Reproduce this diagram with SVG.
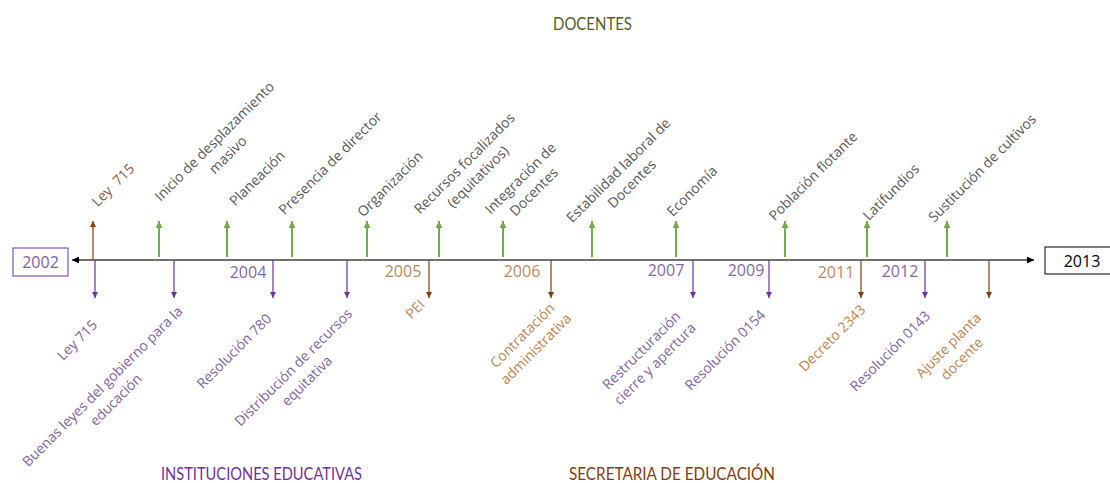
<svg xmlns="http://www.w3.org/2000/svg" width="1110" height="483" viewBox="0 0 1110 483">
<style>
.ax{stroke:#404040;stroke-width:1.6;fill:none}
.g{stroke:#70AD47;stroke-width:2;marker-end:url(#mg)}
.p{stroke:#7030A0;stroke-width:1.2;marker-end:url(#mp)}
.b{stroke:#843C0C;stroke-width:1.2;marker-end:url(#mb)}
text{font-family:"Open Sans","Liberation Sans",sans-serif}
.lt{font-size:14px;fill:#595959;text-anchor:middle}
.lp{font-size:14px;fill:#8064A2;text-anchor:middle}
.lb{font-size:14px;fill:#C0834E;text-anchor:middle}
.yr{font-size:16px;text-anchor:middle}
.ttl{font-family:Lato,"Liberation Sans",sans-serif;font-size:17px}
</style>
<defs>
<marker id="mg" viewBox="0 0 10 10" refX="10" refY="5" markerWidth="7" markerHeight="7" markerUnits="userSpaceOnUse" orient="auto"><path d="M0,0 L10,5 L0,10 z" fill="#70AD47"/></marker>
<marker id="mp" viewBox="0 0 10 10" refX="10" refY="5" markerWidth="6" markerHeight="6" markerUnits="userSpaceOnUse" orient="auto"><path d="M0,0 L10,5 L0,10 z" fill="#7030A0"/></marker>
<marker id="mb" viewBox="0 0 10 10" refX="10" refY="5" markerWidth="6" markerHeight="6" markerUnits="userSpaceOnUse" orient="auto"><path d="M0,0 L10,5 L0,10 z" fill="#843C0C"/></marker>
<marker id="mk" viewBox="0 0 10 10" refX="10" refY="5" markerWidth="7" markerHeight="7" markerUnits="userSpaceOnUse" orient="auto-start-reverse"><path d="M0,0 L10,5 L0,10 z" fill="#000"/></marker>
</defs>

<g id="titles">
<text class="ttl" x="553" y="29.5" fill="#4F6228" textLength="79" lengthAdjust="spacingAndGlyphs">DOCENTES</text>
<text class="ttl" x="161" y="480" fill="#7030A0" textLength="201" lengthAdjust="spacingAndGlyphs">INSTITUCIONES EDUCATIVAS</text>
<text class="ttl" x="569" y="480" fill="#843C0C" textLength="206" lengthAdjust="spacingAndGlyphs">SECRETARIA DE EDUCACIÓN</text>
</g>

<g id="connectors">
<line class="ax" x1="72" y1="260" x2="1034" y2="260" marker-start="url(#mk)" marker-end="url(#mk)"/>
<line class="b" x1="93" y1="260" x2="93" y2="221"/>
<line class="g" x1="159" y1="257" x2="159" y2="221"/>
<line class="g" x1="227" y1="257" x2="227" y2="221"/>
<line class="g" x1="292" y1="257" x2="292" y2="221"/>
<line class="g" x1="367" y1="257" x2="367" y2="221"/>
<line class="g" x1="439" y1="257" x2="439" y2="221"/>
<line class="g" x1="503" y1="257" x2="503" y2="221"/>
<line class="g" x1="592" y1="257" x2="592" y2="221"/>
<line class="g" x1="676" y1="257" x2="676" y2="221"/>
<line class="g" x1="785" y1="257" x2="785" y2="221"/>
<line class="g" x1="867" y1="257" x2="867" y2="221"/>
<line class="g" x1="947" y1="257" x2="947" y2="221"/>
<line class="p" x1="95" y1="260" x2="95" y2="298"/>
<line class="p" x1="174" y1="260" x2="174" y2="298"/>
<line class="p" x1="273" y1="260" x2="273" y2="298"/>
<line class="p" x1="347" y1="260" x2="347" y2="298"/>
<line class="b" x1="429" y1="260" x2="429" y2="298"/>
<line class="b" x1="551" y1="260" x2="551" y2="298"/>
<line class="p" x1="693" y1="260" x2="693" y2="298"/>
<line class="p" x1="769" y1="260" x2="769" y2="298"/>
<line class="b" x1="861" y1="260" x2="861" y2="298"/>
<line class="p" x1="925" y1="260" x2="925" y2="298"/>
<line class="b" x1="989" y1="260" x2="989" y2="298"/>
</g>

<g id="year-2002"><rect x="13" y="248" width="55" height="28" fill="#fff" stroke="#7030A0" stroke-width="1"/><text class="yr" x="40.5" y="268" fill="#7F5FA0">2002</text></g>
<g id="year-2013"><rect x="1045" y="247" width="70" height="27" fill="#fff" stroke="#000" stroke-width="1"/><text class="yr" x="1082" y="267" fill="#000">2013</text></g>

<g id="years">
<text class="yr" x="248" y="278" fill="#7F6A9F">2004</text>
<text class="yr" x="403" y="277" fill="#B88A60">2005</text>
<text class="yr" x="522" y="277" fill="#B88A60">2006</text>
<text class="yr" x="666" y="276" fill="#7F6A9F">2007</text>
<text class="yr" x="746" y="276" fill="#7F6A9F">2009</text>
<text class="yr" x="836" y="278" fill="#B88A60">2011</text>
<text class="yr" x="900" y="277" fill="#7F6A9F">2012</text>
</g>

<g id="top-labels">
<g id="t-ley715" transform="translate(113,185) rotate(-45)"><text class="lt" y="5" style="fill:#8A5A3A;white-space:pre">Ley  715</text></g>
<g id="t-inicio" transform="translate(221,148) rotate(-45)"><text class="lt"><tspan x="0" y="-4.5">Inicio de desplazamiento</tspan><tspan x="0" y="14.5">masivo</tspan></text></g>
<g id="t-planeacion" transform="translate(257,178) rotate(-45)"><text class="lt" y="5">Planeación</text></g>
<g id="t-presencia" transform="translate(330,163) rotate(-45)"><text class="lt" y="5">Presencia de director</text></g>
<g id="t-organizacion" transform="translate(390,184) rotate(-45)"><text class="lt" y="5">Organización</text></g>
<g id="t-recursos" transform="translate(471,170) rotate(-45)"><text class="lt"><tspan x="0" y="-4.5">Recursos focalizados</tspan><tspan x="0" y="14.5">(equitativos)</tspan></text></g>
<g id="t-integracion" transform="translate(527,185) rotate(-45)"><text class="lt"><tspan x="0" y="-4.5">Integración de</tspan><tspan x="0" y="14.5">Docentes</tspan></text></g>
<g id="t-estabilidad" transform="translate(625,177) rotate(-45)"><text class="lt"><tspan x="0" y="-4.5">Estabilidad laboral de</tspan><tspan x="0" y="14.5">Docentes</tspan></text></g>
<g id="t-economia" transform="translate(692,191) rotate(-45)"><text class="lt" y="5">Economía</text></g>
<g id="t-poblacion" transform="translate(813,176) rotate(-45)"><text class="lt" y="5">Población flotante</text></g>
<g id="t-latifundios" transform="translate(891,192) rotate(-45)"><text class="lt" y="5">Latifundios</text></g>
<g id="t-sustitucion" transform="translate(982,168) rotate(-45)"><text class="lt" y="5">Sustitución de cultivos</text></g>
</g>

<g id="bottom-labels">
<g id="b-ley715" transform="translate(77,340) rotate(-45)"><text class="lp" y="5">Ley 715</text></g>
<g id="b-buenas" transform="translate(109,393) rotate(-45)"><text class="lp"><tspan x="0" y="-4.5">Buenas leyes del gobierno para la</tspan><tspan x="0" y="14.5">educación</tspan></text></g>
<g id="b-res780" transform="translate(234,351) rotate(-45)"><text class="lp" y="5">Resolución 780</text></g>
<g id="b-distribucion" transform="translate(300,374) rotate(-45)"><text class="lp"><tspan x="0" y="-4.5">Distribución de recursos</tspan><tspan x="0" y="14.5">equitativa</tspan></text></g>
<g id="b-pei" transform="translate(415,309) rotate(-45)"><text class="lb" y="5">PEI</text></g>
<g id="b-contratacion" transform="translate(529,342) rotate(-45)"><text class="lb"><tspan x="0" y="-4.5">Contratación</tspan><tspan x="0" y="14.5">administrativa</tspan></text></g>
<g id="b-restructuracion" transform="translate(648,357) rotate(-45)"><text class="lp"><tspan x="0" y="-4.5">Restructuración</tspan><tspan x="0" y="14.5">cierre y apertura</tspan></text></g>
<g id="b-res0154" transform="translate(725,350) rotate(-45)"><text class="lp" y="5">Resolución 0154</text></g>
<g id="b-decreto" transform="translate(832,338) rotate(-45)"><text class="lb" y="5">Decreto 2343</text></g>
<g id="b-res0143" transform="translate(890,351) rotate(-45)"><text class="lp" y="5">Resolución 0143</text></g>
<g id="b-ajuste" transform="translate(955,352) rotate(-45)"><text class="lb"><tspan x="0" y="-4.5">Ajuste planta</tspan><tspan x="0" y="14.5">docente</tspan></text></g>
</g>
</svg>
